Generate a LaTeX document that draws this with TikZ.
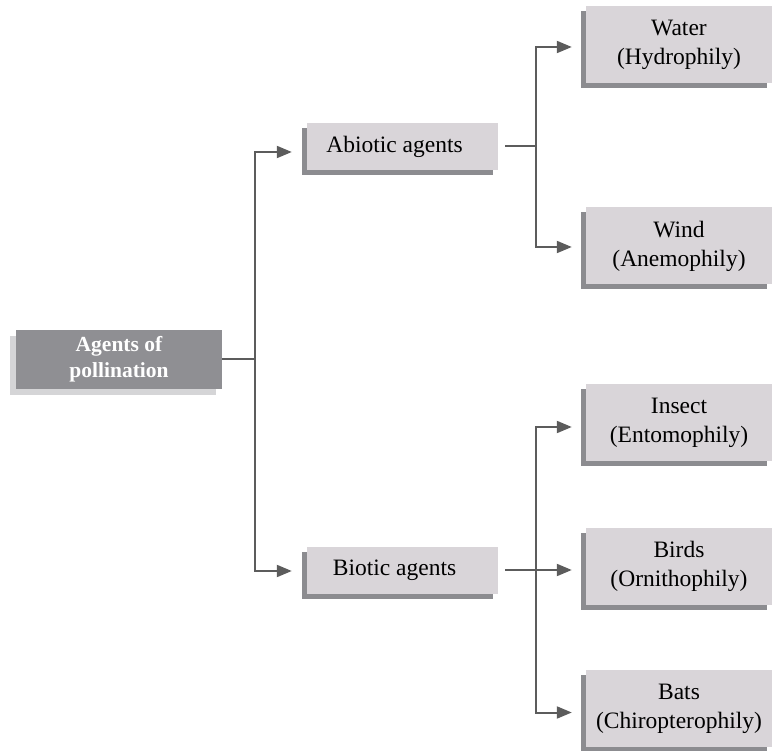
\documentclass[tikz,border=0pt]{standalone}
\usepackage{fontspec}
\setmainfont{Liberation Serif}
\usetikzlibrary{shadows,arrows.meta,calc}
\definecolor{leaffill}{HTML}{D9D5D9}
\definecolor{leafshadow}{HTML}{8C8C90}
\definecolor{mainfill}{HTML}{8F8F93}
\definecolor{mainshadow}{HTML}{D5D5D7}
\definecolor{linecol}{HTML}{5C5C5C}
\tikzset{
  leafbox/.style={rectangle, fill=leaffill, inner sep=0pt, align=center,
    minimum width=186pt, minimum height=77pt,
    font=\fontsize{23.5}{29}\selectfont,
    general shadow={fill=leafshadow, shadow xshift=-5pt, shadow yshift=-5pt}},
  midbox/.style={rectangle, fill=leaffill, inner sep=0pt,
    minimum width=191pt, minimum height=47pt,
    font=\fontsize{23.5}{29}\selectfont,
    general shadow={fill=leafshadow, shadow xshift=-5pt, shadow yshift=-5pt}},
  mainbox/.style={rectangle, fill=mainfill, inner sep=0pt, align=center,
    minimum width=206pt, minimum height=59pt, text=white,
    font=\fontsize{21.5}{26}\selectfont\bfseries,
    general shadow={fill=mainshadow, shadow xshift=-6pt, shadow yshift=-6pt}},
  conn/.style={draw=linecol, line width=2pt},
  arr/.style={conn, -{Triangle[length=15pt,width=12pt,fill=linecol]}}
}
\begin{document}
\begin{tikzpicture}[x=1pt,y=-1pt]
\useasboundingbox (0,0) rectangle (772,751);
\node[mainbox] (main) at (119,359.5) {Agents of\\pollination};
\node[midbox] (abiotic) at (402.5,146.5) {\hspace*{-16pt}Abiotic agents};
\node[midbox] (biotic) at (402.5,570) {\hspace*{-16pt}Biotic agents};
\node[leafbox] (water) at (679,44.5) {Water\\(Hydrophily)};
\node[leafbox] (wind) at (679,246) {Wind\\(Anemophily)};
\node[leafbox] (insect) at (679,422.5) {Insect\\(Entomophily)};
\node[leafbox] (birds) at (679,566.5) {Birds\\(Ornithophily)};
\node[leafbox] (bats) at (679,708.5) {Bats\\(Chiropterophily)};
% main to mid
\coordinate (j1) at ($(main.east)+(33,0)$);
\draw[conn] (main.east) -- (j1);
\draw[arr, shorten >=15pt] (j1) |- ([yshift=-5.5pt]abiotic.west);
\draw[arr, shorten >=15pt] (j1) |- ([yshift=-1pt]biotic.west);
% abiotic to leaves
\coordinate (j2) at ($(abiotic.east)+(38,0)$);
\draw[conn, shorten <=7pt] (abiotic.east) -- (j2);
\draw[arr, shorten >=14pt] (j2) |- ([yshift=-2.5pt]water.west);
\draw[arr, shorten >=14pt] (j2) |- ([yshift=-1pt]wind.west);
% biotic to leaves
\coordinate (j3) at ($(biotic.east)+(38,0)$);
\draw[arr, shorten <=7pt, shorten >=14pt] (biotic.east) -- ([yshift=-3.5pt]birds.west);
\draw[arr, shorten >=14pt] (j3) |- ([yshift=-4.5pt]insect.west);
\draw[arr, shorten >=14pt] (j3) |- ([yshift=-4pt]bats.west);
\end{tikzpicture}
\end{document}
